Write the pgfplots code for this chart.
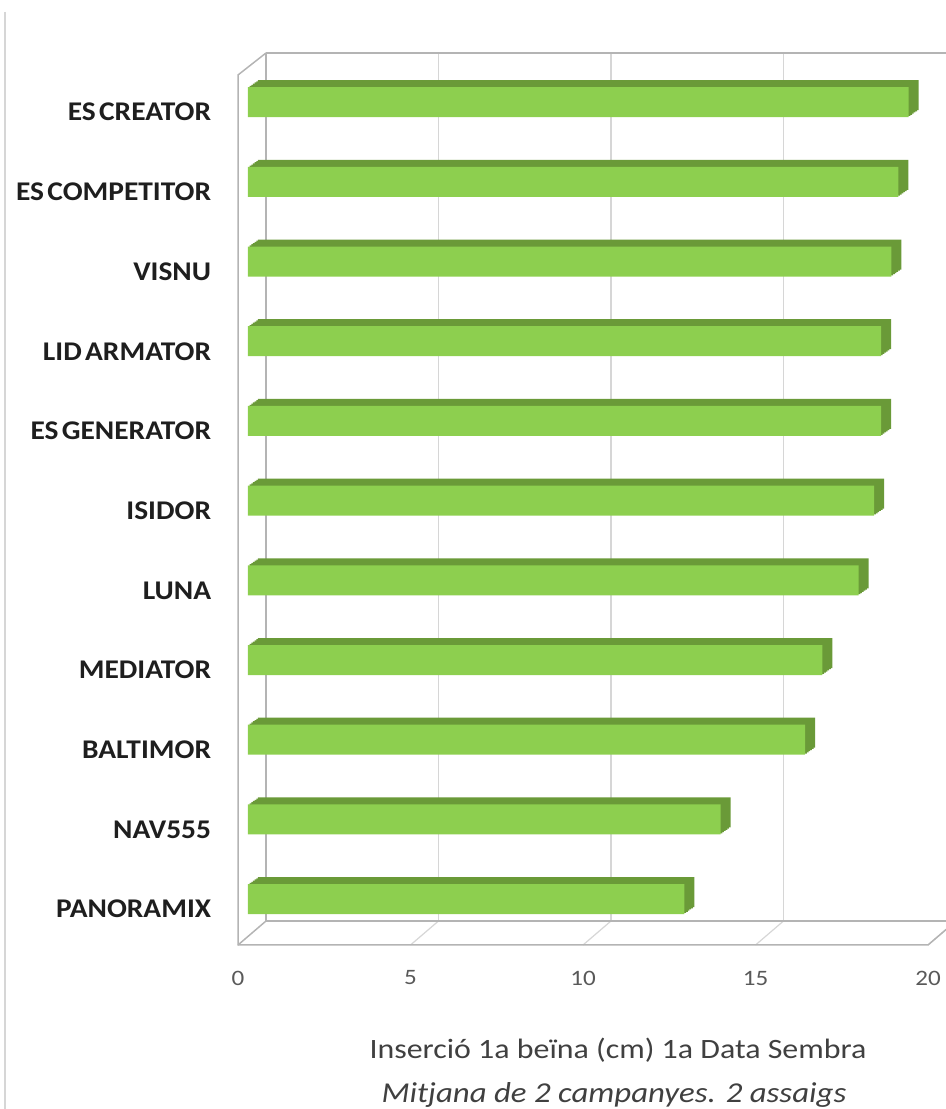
\documentclass[border=0pt]{standalone}
\usepackage{pgfplots}
\pgfplotsset{compat=1.18}
\usepackage{pgfplotstable}
\usepackage{fontspec}
\setmainfont[FakeStretch=1.14]{Carlito}
\newfontfamily\labfont[FakeStretch=1.09, WordSpace=0.5]{Carlito}
\definecolor{barfront}{HTML}{8DCF4F}
\definecolor{bardark}{HTML}{6A9A38}
\definecolor{framec}{HTML}{B4B4B4}
\definecolor{gridc}{HTML}{D6D6D6}
\definecolor{labc}{HTML}{1E1E1E}
\definecolor{tickc}{HTML}{595959}
\definecolor{titc}{HTML}{404040}

\pgfplotstableread{
i v
0 12.65
1 13.70
2 16.15
3 16.65
4 17.70
5 18.15
6 18.35
7 18.35
8 18.65
9 18.85
10 19.15
}\data

\begin{document}
\begin{tikzpicture}
\path[use as bounding box] (0,0) rectangle (473pt,554.5pt);
% frame in pixel units (origin top-left)
\begin{scope}[x=0.5pt,y=-0.5pt,shift={(0pt,554.5pt)}]
  \draw[gridc, line width=0.6pt] (5,12) -- (5,1109);
  % back wall grid lines
  \foreach \k in {1,2,3}{
    \draw[gridc, line width=0.6pt] (266+172.5*\k,53) -- (266+172.5*\k,921);
  }
  % floor diagonals
  \foreach \k in {1,2,3,4}{
    \draw[gridc, line width=0.6pt] (266+172.5*\k,921) -- (238+172.5*\k,945);
  }
  \draw[framec, line width=0.75pt] (266,53) -- (266,921) -- (946,921);
  \draw[framec, line width=0.75pt] (266,53) -- (946,53);
  \draw[framec, line width=0.75pt] (266,53) -- (238,75) -- (238,945) -- (928,945) -- (956,921);
  \draw[framec, line width=0.75pt] (266,921) -- (238,945);
  % titles
  \node[titc, font=\fontsize{14}{16}\selectfont] at (618,1050) {Inserció 1a beïna (cm) 1a Data Sembra};
  \node[titc, font=\fontsize{14.4}{16}\selectfont\itshape] at (614,1095) {Mitjana de 2 campanyes. 2 assaigs};
\end{scope}
\begin{axis}[
  at={(115.375pt,85pt)}, anchor=south west,
  scale only axis, width=362.25pt, height=438.35pt,
  xmin=-0.5, xmax=20.5, ymin=-0.5, ymax=10.5,
  enlargelimits=false, clip=false,
  axis line style={draw=none}, tick style={draw=none},
  xtick={-0.29,4.71,9.71,14.71,19.71},
  xticklabels={0,5,10,15,20},
  xticklabel style={tickc, font=\fontsize{11}{13}\selectfont, anchor=center, yshift=-19.5pt},
  ytick={0,...,10},
  yticklabels={PANORAMIX, NAV555, BALTIMOR, MEDIATOR, LUNA, ISIDOR, ES GENERATOR, LID ARMATOR, VISNU, ES COMPETITOR, ES CREATOR},
  yticklabel style={labc, font=\labfont\fontsize{13.5}{16}\selectfont\bfseries, anchor=east, inner sep=0pt, xshift=-5.375pt, yshift=-5pt},
  xbar, bar width=15pt,
]
\pgfplotsinvokeforeach{6,5,4,3,2,1}{
  \addplot[xbar, fill=bardark, draw=none, xshift=#1*0.8333pt, yshift=#1*0.5833pt, forget plot] table[x=v,y=i]{\data};
}
\addplot[xbar, fill=barfront, draw=none] table[x=v,y=i]{\data};
\end{axis}
\end{tikzpicture}
\end{document}
